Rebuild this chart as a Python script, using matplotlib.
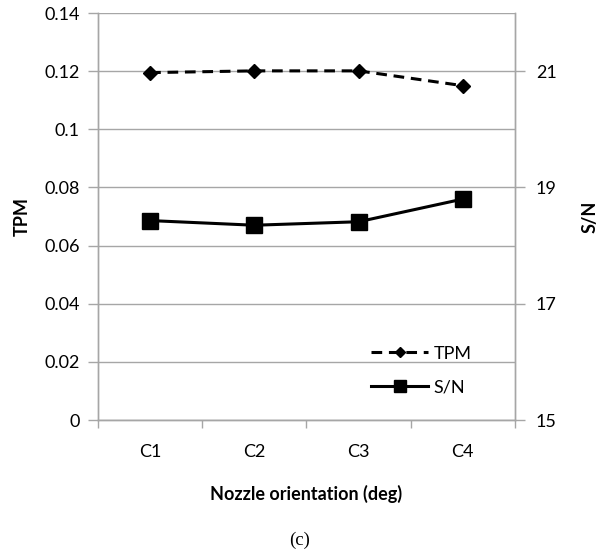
import matplotlib.pyplot as plt
import matplotlib as mpl
from matplotlib.ticker import FixedLocator, FuncFormatter

categories = ['C1', 'C2', 'C3', 'C4']
tpm = [0.1195, 0.1201, 0.1201, 0.1150]
sn = [18.43, 18.35, 18.41, 18.80]
tpm_ticks = [0, 0.02, 0.04, 0.06, 0.08, 0.1, 0.12, 0.14]
sn_ticks = [15, 17, 19, 21]

mpl.rcParams['font.family'] = ['Lato', 'DejaVu Sans']
mpl.rcParams['font.size'] = 13
grey = '#a6a6a6'

fig = plt.figure(figsize=(6, 5.56), dpi=100)
ax = fig.add_axes([0.1633, 0.2446, 0.695, 0.732])
ax2 = ax.twinx()

x = [i + 0.5 for i in range(len(categories))]
l1, = ax.plot(x, tpm, color='black', lw=2.2, ls='--', dashes=(3.5, 2.2),
              marker='D', ms=7, label='TPM', zorder=3)
l2, = ax2.plot(x, sn, color='black', lw=2.2, marker='s', ms=11, label='S/N', zorder=3)

ax.set_xlim(0, 4)
ax.set_ylim(0, 0.14)
ax2.set_ylim(15, 22)
ax.set_yticks(tpm_ticks)
ax.yaxis.set_major_formatter(FuncFormatter(lambda v, p: '%g' % v))
ax2.set_yticks(sn_ticks)

ax.xaxis.set_major_locator(FixedLocator([0, 1, 2, 3, 4]))
ax.xaxis.set_major_formatter(FuncFormatter(lambda v, p: ''))
ax.set_xticks(x, minor=True)
ax.set_xticklabels(categories, minor=True)
ax.tick_params(axis='x', which='minor', length=0, pad=17, labelsize=13)
ax.tick_params(axis='x', which='major', length=6, color=grey, width=1)
ax.tick_params(axis='y', length=7, color=grey, width=1, labelsize=13, pad=6)
ax2.tick_params(axis='y', length=7, color=grey, width=1, labelsize=13, pad=8)

ax.grid(axis='y', color=grey, lw=1)
ax.set_axisbelow(True)
for a in (ax, ax2):
    for s in a.spines.values():
        s.set_color(grey)
        s.set_linewidth(1)
    a.spines['top'].set_visible(False)

ax.set_ylabel('TPM', fontweight='bold', labelpad=10, fontsize=13)
ax2.set_ylabel('S/N', fontweight='bold', rotation=90, labelpad=18, fontsize=13)
ax.set_xlabel('Nozzle orientation (deg)', fontweight='bold', labelpad=18, fontsize=13)

ax2.legend([l1, l2], ['TPM', 'S/N'], frameon=False, loc='lower left',
           bbox_to_anchor=(0.615, 0.02), handlelength=3.2, handletextpad=0.3,
           labelspacing=1.0, fontsize=13, markerscale=0.8)

fig.text(0.5, 0.029, '(c)', family='Liberation Serif', fontsize=13.5, ha='center', va='center')

fig.savefig('out.png', dpi=100)
